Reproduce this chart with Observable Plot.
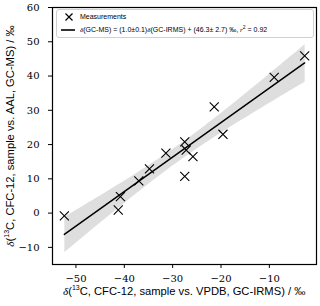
<!DOCTYPE html>
<html><head><meta charset="utf-8">
<script src="https://cdn.jsdelivr.net/npm/d3@7"></script>
<script src="https://cdn.jsdelivr.net/npm/@observablehq/plot@0.6"></script>
<style>
body{margin:0;background:#fff;}
#wrap{position:relative;width:320px;height:306px;}
#wrap > svg{position:absolute;left:0;top:0;}
#wrap > svg text{font-family:"DejaVu Serif",serif !important;font-size:10px !important;fill:#000;}
.lab{position:absolute;font-family:"Liberation Sans",sans-serif;font-size:11.2px;color:#000;white-space:nowrap;line-height:12px;}
.lab i{font-family:"Liberation Serif",serif;}
#legend{position:absolute;left:56px;top:9px;width:256px;height:27px;border:1px solid #d0d0d0;border-radius:3px;background:rgba(255,255,255,0.85);font-family:"Liberation Sans",sans-serif;font-size:7px;color:#000;}
#legend .row{position:absolute;white-space:nowrap;line-height:10px;height:10px;}
#legend .row svg{display:inline-block;vertical-align:top;}
#legend .row span{display:inline-block;vertical-align:top;line-height:10px;}
#legend i{font-family:"Liberation Serif",serif;}
</style></head>
<body><div id="wrap"></div>
<script>
// data
const gcIrms = [-52.4,-41.25,-40.8,-37.0,-34.8,-31.4,-27.5,-27.2,-27.5,-25.8,-21.4,-19.6,-9.0,-2.7];
const gcMs   = [-0.8,0.9,4.8,9.4,12.9,17.5,20.8,18.4,10.7,16.5,31.0,23.0,39.6,45.9];
const xTicks = [-50,-40,-30,-20,-10];
const yTicks = [-10,0,10,20,30,40,50,60];
const xLabel = '<i>δ</i>(<sup style="font-size:7px;line-height:0">13</sup>C, CFC-12, sample vs. VPDB, GC-IRMS) / ‰';
const yLabel = '<i>δ</i>(<sup style="font-size:7px;line-height:0">13</sup>C, CFC-12, sample vs. AAL, GC-MS) / ‰';
const legendPoints = "Measurements";
const legendLine = '<i>δ</i>(GC-MS) = (1.0±0.1)<i>δ</i>(GC-IRMS) + (46.3± 2.7) ‰, <i>r</i><sup style="font-size:5px;line-height:0">2</sup> = 0.92';

const data = gcIrms.map((x,i)=>({x, y: gcMs[i]}));
const fmt = d => d < 0 ? "−" + Math.abs(d) : String(d);
const tickFont = "DejaVu Serif, serif";

const chart = Plot.plot({
  width: 320, height: 306,
  marginLeft: 52, marginRight: 4, marginTop: 7, marginBottom: 42,
  style: {fontFamily: tickFont, fontSize: "10px", background: "white", color: "black"},
  x: {domain: [-54.85, -0.25]},
  y: {domain: [-15, 60]},
  marks: [
    Plot.linearRegressionY(data, {x: "x", y: "y", stroke: "black", strokeWidth: 1.5, fill: "#dedede", fillOpacity: 1, ci: 0.95}),
    Plot.dot(data, {x: "x", y: "y", symbol: "times", r: 4.2, stroke: "black", strokeWidth: 1.1}),
    Plot.frame({stroke: "black", strokeWidth: 1.2}),
    Plot.axisX({ticks: xTicks, tickSize: 4, tickPadding: 6, label: null, tickFormat: fmt, fontFamily: tickFont, fontSize: 10}),
    Plot.axisY({ticks: yTicks, tickSize: 4, tickPadding: 9, label: null, tickFormat: fmt, fontFamily: tickFont, fontSize: 10})
  ]
});
const wrap = document.getElementById("wrap");
wrap.appendChild(chart);

const xl = document.createElement("div");
xl.className = "lab";
xl.innerHTML = xLabel;
wrap.appendChild(xl);
xl.style.left = (184 - xl.offsetWidth/2) + "px";
xl.style.top = (291 - xl.offsetHeight/2) + "px";

const yl = document.createElement("div");
yl.className = "lab";
yl.innerHTML = yLabel;
wrap.appendChild(yl);
const w = yl.offsetWidth, h = yl.offsetHeight;
yl.style.left = (9 - w/2) + "px";
yl.style.top = (135.6 - h/2) + "px";
yl.style.transform = "rotate(-90deg)";

const lg = document.createElement("div");
lg.id = "legend";
lg.innerHTML =
  '<div class="row" style="top:2px;left:7px;"><svg width="10" height="10"><path d="M1.5,1.5L8.5,8.5M8.5,1.5L1.5,8.5" stroke="black" stroke-width="1.2"/></svg><span style="margin-left:6px">' + legendPoints + '</span></div>' +
  '<div class="row" style="top:15px;left:4px;"><svg width="15" height="10"><line x1="0" y1="5" x2="14" y2="5" stroke="black" stroke-width="1.6"/></svg><span style="margin-left:4px">' + legendLine + '</span></div>';
wrap.appendChild(lg);
</script>
</body></html>
